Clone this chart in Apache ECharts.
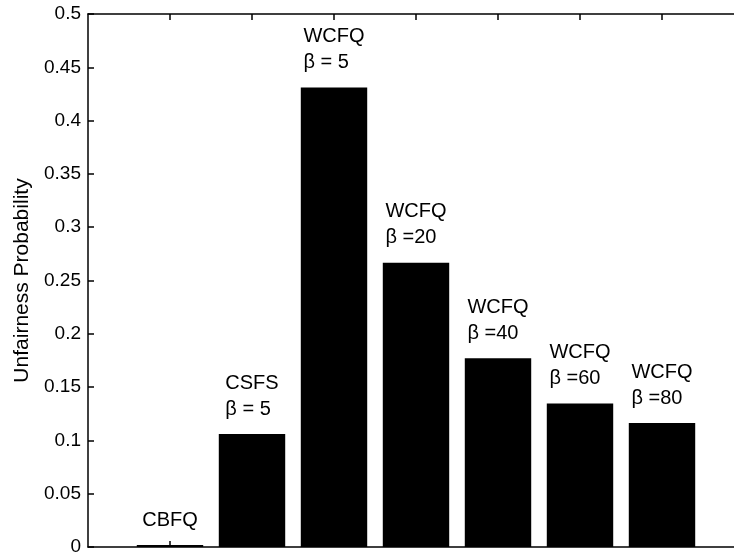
<!DOCTYPE html>
<html>
<head>
<meta charset="utf-8">
<script src="https://cdn.jsdelivr.net/npm/echarts@6/dist/echarts.min.js"></script>
<style>
html,body{margin:0;padding:0;background:#fff;}
#chart{width:734px;height:553px;}
</style>
</head>
<body>
<div id="chart"></div>
<script>
var categories = ['CBFQ', 'CSFS', 'WCFQ5', 'WCFQ20', 'WCFQ40', 'WCFQ60', 'WCFQ80'];
var barLabels = ['CBFQ', 'CSFS\nβ = 5', 'WCFQ\nβ = 5', 'WCFQ\nβ =20', 'WCFQ\nβ =40', 'WCFQ\nβ =60', 'WCFQ\nβ =80'];
var values = [0.0018, 0.106, 0.431, 0.2667, 0.177, 0.1345, 0.1163];
var yTicks = [0, 0.05, 0.1, 0.15, 0.2, 0.25, 0.3, 0.35, 0.4, 0.45, 0.5];

var FONT = '"Liberation Sans", Arial, Helvetica, sans-serif';
var xData = [''].concat(categories).concat(['']);
var sData = ['-'].concat(values).concat(['-']);
var lastIdx = xData.length - 1;

var chart = echarts.init(document.getElementById('chart'));
var tickInterval = function (index) { return index > 0 && index < lastIdx; };
chart.setOption({
  animation: false,
  backgroundColor: '#fff',
  grid: { left: 88, width: 656, top: 14, bottom: 6, containLabel: false, outerBoundsMode: 'none' },
  xAxis: [{
    type: 'category',
    data: xData,
    boundaryGap: false,
    position: 'bottom',
    axisLine: { show: true, lineStyle: { color: '#000', width: 1.5 } },
    axisTick: { show: true, inside: true, length: 6, interval: tickInterval, lineStyle: { color: '#000', width: 1.5 } },
    axisLabel: { show: false },
    splitLine: { show: false }
  }, {
    type: 'category',
    data: xData,
    boundaryGap: false,
    position: 'top',
    axisLine: { show: true, lineStyle: { color: '#000', width: 1.5 } },
    axisTick: { show: true, inside: true, length: 6, interval: tickInterval, lineStyle: { color: '#000', width: 1.5 } },
    axisLabel: { show: false },
    splitLine: { show: false }
  }],
  yAxis: {
    type: 'value',
    min: yTicks[0],
    max: yTicks[yTicks.length - 1],
    interval: 0.05,
    name: 'Unfairness Probability',
    nameLocation: 'middle',
    nameGap: 55,
    nameTextStyle: { fontSize: 21, color: '#000', fontFamily: FONT },
    axisLine: { show: true, lineStyle: { color: '#000', width: 1.5 } },
    axisTick: { show: true, inside: true, length: 6, lineStyle: { color: '#000', width: 1.5 } },
    axisLabel: {
      fontSize: 19, color: '#000', fontFamily: FONT, margin: 7,
      formatter: function (v) { return String(parseFloat(v.toFixed(2))); }
    },
    splitLine: { show: false }
  },
  series: [{
    type: 'bar',
    data: sData,
    barWidth: '81%',
    itemStyle: { color: '#000' },
    label: {
      show: true,
      position: 'top',
      distance: 12,
      formatter: function (p) {
        var t = barLabels[p.dataIndex - 1];
        if (!t) return '';
        return t.split('\n').map(function (s) { return '{a|' + s + '}'; }).join('\n');
      },
      rich: {
        a: { fontSize: 20, lineHeight: 26, align: 'left', color: '#000', fontFamily: FONT }
      }
    }
  }]
});
</script>
</body>
</html>
